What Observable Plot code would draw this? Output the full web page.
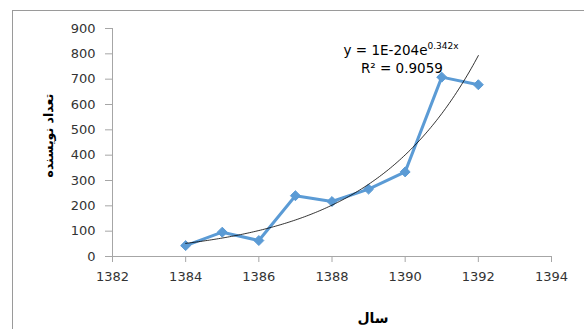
<!DOCTYPE html>
<html><head><meta charset="utf-8">
<script src="https://cdn.jsdelivr.net/npm/d3@7"></script>
<script src="https://cdn.jsdelivr.net/npm/@observablehq/plot@0.6"></script>
<style>
html,body{margin:0;padding:0;background:#fff;overflow:hidden;}
#wrap{position:relative;width:584px;height:329px;}
#frame{position:absolute;left:12px;top:10px;width:600px;height:400px;border-left:1px solid #9a9a9a;border-top:1px solid #9a9a9a;box-sizing:border-box;}
#chart{position:absolute;left:0;top:0;}
</style></head>
<body><div id="wrap"><div id="frame"></div><div id="chart"></div></div>
<script>
const years = [1384, 1385, 1386, 1387, 1388, 1389, 1390, 1391, 1392];
const writers = [43, 96, 63, 240, 217, 266, 334, 708, 678];
const xTicks = [1382, 1384, 1386, 1388, 1390, 1392, 1394];
const yTicks = [0, 100, 200, 300, 400, 500, 600, 700, 800, 900];
const xLabel = "سال";
const yLabel = "تعداد نویسنده";
const eqMain = "y = 1E-204e";
const eqSup = "0.342x";
const r2Text = "R² = 0.9059";

const data = years.map((y, i) => ({year: y, value: writers[i]}));

// exponential trendline from log-linear least squares on the data
const mx = d3.mean(years);
const lv = writers.map(Math.log);
const ml = d3.mean(lv);
const b = d3.sum(years, (x, i) => (x - mx) * (lv[i] - ml)) / d3.sum(years, x => (x - mx) ** 2);
const trend = d3.range(years[0], years[years.length - 1] + 0.001, 0.05)
  .map(x => ({year: x, value: Math.exp(ml + b * (x - mx))}));

const font = "DejaVu Sans, sans-serif";
const chart = Plot.plot({
  width: 584, height: 329,
  marginLeft: 112, marginRight: 33, marginTop: 28, marginBottom: 73,
  style: {fontFamily: font, fontSize: "13px", color: "#333", background: "transparent"},
  x: {domain: [1382, 1394]},
  y: {domain: [0, 900]},
  marks: [
    Plot.axisX({ticks: xTicks, tickFormat: d => String(d), tickSize: 6, tickPadding: 9, stroke: "#a6a6a6", label: null, fontSize: 13}),
    Plot.axisY({ticks: yTicks, tickFormat: d => String(d), tickSize: 7, tickPadding: 10, stroke: "#a6a6a6", label: null, fontSize: 13}),
    Plot.ruleX([1382], {stroke: "#a6a6a6"}),
    Plot.ruleY([0], {stroke: "#a6a6a6"}),
    Plot.line(data, {x: "year", y: "value", stroke: "#5b9bd5", strokeWidth: 3}),
    Plot.dot(data, {x: "year", y: "value", symbol: "diamond2", r: 4.5, fill: "#5b9bd5", stroke: "#5b9bd5", strokeWidth: 1}),
    Plot.line(trend, {x: "year", y: "value", stroke: "#000", strokeWidth: 0.8, curve: "linear"}),
    Plot.text([eqMain], {x: 1390.61, y: 813, textAnchor: "end", fontSize: 13.5, fill: "#000"}),
    Plot.text([eqSup], {x: 1390.61, y: 831, textAnchor: "start", fontSize: 9, fill: "#000"}),
    Plot.text([r2Text], {x: 1389.91, y: 742, textAnchor: "middle", fontSize: 13.5, fill: "#000"}),
    Plot.text([yLabel], {frameAnchor: "left", rotate: -90, dx: -64, dy: 35, fontSize: 12.5, fontWeight: "bold", fill: "#000", fontFamily: "DejaVu Sans"}),
    Plot.text([xLabel], {frameAnchor: "bottom", dx: 41, dy: 66, fontSize: 14, fontWeight: "bold", fill: "#000", fontFamily: "DejaVu Sans"})
  ]
});
document.getElementById("chart").appendChild(chart);
</script></body></html>
